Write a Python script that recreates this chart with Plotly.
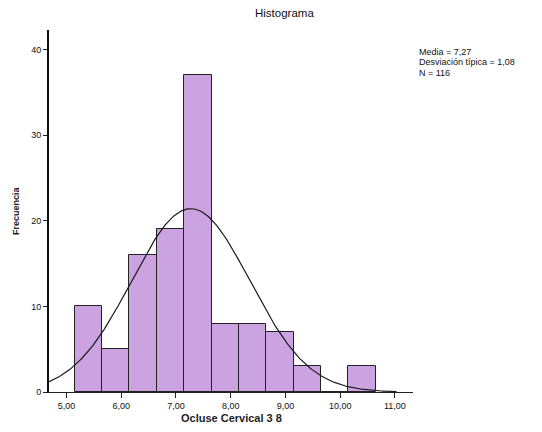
import numpy as np
import plotly.graph_objects as go

# Data
bin_start = 5.15
bin_width = 0.5
counts = [10, 5, 16, 19, 37, 8, 8, 7, 3, 0, 3]
mean_val = 7.27
sd_val = 1.08
n_val = 116

x_tickvals = [5, 6, 7, 8, 9, 10, 11]
x_ticktext = ["5,00", "6,00", "7,00", "8,00", "9,00", "10,00", "11,00"]
y_tickvals = [0, 10, 20, 30, 40]
stats_lines = ["Media = 7,27", "Desviación típica = 1,08", f"N = {n_val}"]

centers = [bin_start + bin_width * (i + 0.5) for i in range(len(counts))]

# Fitted normal curve (as drawn by the stats package from mean/sd/N)
xc = np.linspace(4.68, 11.03, 300)
yc = n_val * bin_width * np.exp(-0.5 * ((xc - mean_val) / sd_val) ** 2) / (sd_val * np.sqrt(2 * np.pi))

font = "Liberation Sans, Arial, sans-serif"
W, H = 542, 432
L, R, T, B = 49, 129, 30, 40
pw, ph = W - L - R, H - T - B

def px_x(px):
    return (px - L) / pw

def px_y(py):
    return (H - B - py) / ph

fig = go.Figure()
fig.add_trace(go.Bar(
    x=centers, y=counts, width=bin_width,
    marker=dict(color="#CBA3E0", line=dict(color="#222222", width=1)),
    showlegend=False, hoverinfo="x+y",
))
fig.add_trace(go.Scatter(
    x=xc, y=yc, mode="lines",
    line=dict(color="#1a1a1a", width=1.2),
    showlegend=False,
))

annotations = [
    dict(xref="paper", yref="paper", x=px_x(284), y=px_y(13), xanchor="center", yanchor="middle",
         showarrow=False, text="Histograma", font=dict(size=11.5, color="#111111")),
    dict(xref="paper", yref="paper", x=px_x(231), y=px_y(418), xanchor="center", yanchor="middle",
         showarrow=False, text="<b>Ocluse Cervical 3 8</b>", font=dict(size=11, color="#222222")),
    dict(xref="paper", yref="paper", x=px_x(16), y=px_y(211), xanchor="center", yanchor="middle",
         showarrow=False, textangle=-90, text="<b>Frecuencia</b>", font=dict(size=9, color="#222222")),
]
for i, line in enumerate(stats_lines):
    annotations.append(dict(
        xref="paper", yref="paper", x=px_x(417), y=px_y(52 + 10.5 * i), xanchor="left", yanchor="middle",
        align="left", showarrow=False, text=line, font=dict(size=9, color="#111111"),
    ))

fig.update_layout(
    width=W, height=H,
    margin=dict(l=L, r=R, t=T, b=B),
    paper_bgcolor="white", plot_bgcolor="white",
    bargap=0,
    font=dict(family=font, color="#222222", size=9),
    xaxis=dict(
        range=[4.68, 11.33], tickvals=x_tickvals, ticktext=x_ticktext,
        ticks="outside", ticklen=5, tickcolor="#222222",
        showline=True, linecolor="#222222", linewidth=1,
        showgrid=False, zeroline=False, automargin=False,
        tickfont=dict(size=9, color="#111111"),
    ),
    yaxis=dict(
        range=[0, 42.3], tickvals=y_tickvals,
        ticks="outside", ticklen=4, tickcolor="#222222",
        showline=True, linecolor="#111111", linewidth=2,
        showgrid=False, zeroline=False, automargin=False,
        tickfont=dict(size=9, color="#111111"),
    ),
    annotations=annotations,
)

fig.write_html(
    "out.html",
    config={"displayModeBar": False},
    post_script="document.body.style.margin='0';document.body.style.overflow='hidden';",
)
